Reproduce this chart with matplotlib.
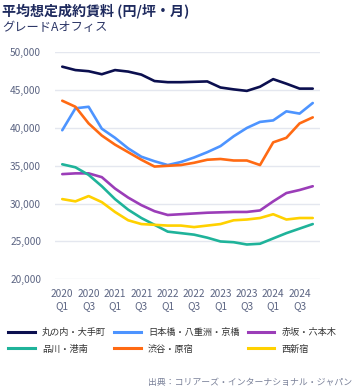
import matplotlib
matplotlib.use("Agg")
import matplotlib.pyplot as plt
from matplotlib.lines import Line2D

plt.rcParams['font.family'] = ['Noto Sans CJK JP', 'DejaVu Sans']

quarters = ["2020\nQ1", "2020\nQ2", "2020\nQ3", "2020\nQ4",
            "2021\nQ1", "2021\nQ2", "2021\nQ3", "2021\nQ4",
            "2022\nQ1", "2022\nQ2", "2022\nQ3", "2022\nQ4",
            "2023\nQ1", "2023\nQ2", "2023\nQ3", "2023\nQ4",
            "2024\nQ1", "2024\nQ2", "2024\nQ3", "2024\nQ4"]

marunouchi = [48100, 47650, 47500, 47100, 47650, 47450, 47050, 46200, 46050, 46050,
              46100, 46150, 45350, 45100, 44900, 45450, 46450, 45850, 45200, 45200]
nihonbashi = [39700, 42600, 42800, 39900, 38700, 37300, 36200, 35600, 35100, 35500,
              36100, 36800, 37600, 38900, 40000, 40800, 41000, 42200, 41900, 43300]
akasaka = [33900, 34000, 34000, 33500, 32000, 30800, 29800, 29000, 28500, 28600,
           28700, 28800, 28850, 28900, 28900, 29100, 30300, 31400, 31800, 32300]
shinagawa = [35200, 34800, 33800, 32300, 30600, 29200, 28100, 27200, 26300, 26100,
             25900, 25500, 25000, 24900, 24600, 24700, 25400, 26100, 26700, 27300]
shibuya = [43600, 42800, 40600, 39000, 37800, 36800, 35800, 34900, 35000, 35100,
           35400, 35800, 35900, 35700, 35700, 35100, 38100, 38700, 40600, 41400]
nishishinjuku = [30600, 30300, 31000, 30200, 28900, 27800, 27300, 27200, 27100, 27100,
                 26900, 27100, 27300, 27800, 27900, 28100, 28600, 27900, 28100, 28100]

series = [
    ("丸の内・大手町", marunouchi, "#0b0f4f"),
    ("日本橋・八重洲・京橋", nihonbashi, "#4d94ff"),
    ("赤坂・六本木", akasaka, "#9b3db8"),
    ("品川・港南", shinagawa, "#1fb39a"),
    ("渋谷・原宿", shibuya, "#ff6a13"),
    ("西新宿", nishishinjuku, "#ffd100"),
]

W, H = 356, 391
fig = plt.figure(figsize=(W / 100, H / 100), dpi=100)
left, right, top, bottom = 55, 320, 52.3, 279.3
ax = fig.add_axes([left / W, 1 - bottom / H, (right - left) / W, (bottom - top) / H])

x = list(range(len(quarters)))
handles = []
for name, vals, col in series:
    ax.plot(x, vals, color=col, lw=1.9, solid_joinstyle='round', solid_capstyle='round')
    handles.append(Line2D([0], [0], color=col, lw=2.2, label=name))

# legend is filled row-wise in the reference (3 columns)
order = [0, 3, 1, 4, 2, 5]
handles = [handles[i] for i in order]

ax.set_xlim(-0.55, len(quarters) - 0.45)
ax.set_ylim(20000, 50000)
ax.set_yticks([20000, 25000, 30000, 35000, 40000, 45000, 50000])
ax.set_yticklabels([f"{v:,}" for v in ax.get_yticks().astype(int)])
ax.set_xticks(x[::2])
ax.set_xticklabels(quarters[::2], linespacing=1.25)
ax.tick_params(axis='both', length=0, labelsize=7.3, labelcolor="#5b6482")
ax.tick_params(axis='y', pad=10)
ax.tick_params(axis='x', pad=7)
ax.grid(axis='y', color="#e4e7ef", lw=1)
ax.set_axisbelow(True)
for s in ax.spines.values():
    s.set_visible(False)

fig.text(2 / W, 1 - 12 / H, "平均想定成約賃料 (円/坪・月)", fontsize=10.1, fontweight='bold',
         color="#1e2a5e", va='center', ha='left')
fig.text(2 / W, 1 - 28 / H, "グレードAオフィス", fontsize=8.8, color="#2b3566",
         va='center', ha='left')

leg = fig.legend(handles=handles, ncol=3, loc='upper left',
                 bbox_to_anchor=(8 / W, 1 - 328 / H), frameon=False,
                 fontsize=6.6, handlelength=2.9, handletextpad=0.8,
                 columnspacing=0.9, labelspacing=0.8, borderpad=0, borderaxespad=0)
for t in leg.get_texts():
    t.set_color("#333333")

fig.text(352 / W, 1 - 382 / H, "出典：コリアーズ・インターナショナル・ジャパン",
         fontsize=6.4, style='italic', color="#7a8199", ha='right', va='center')

fig.savefig("out.png", dpi=100)
